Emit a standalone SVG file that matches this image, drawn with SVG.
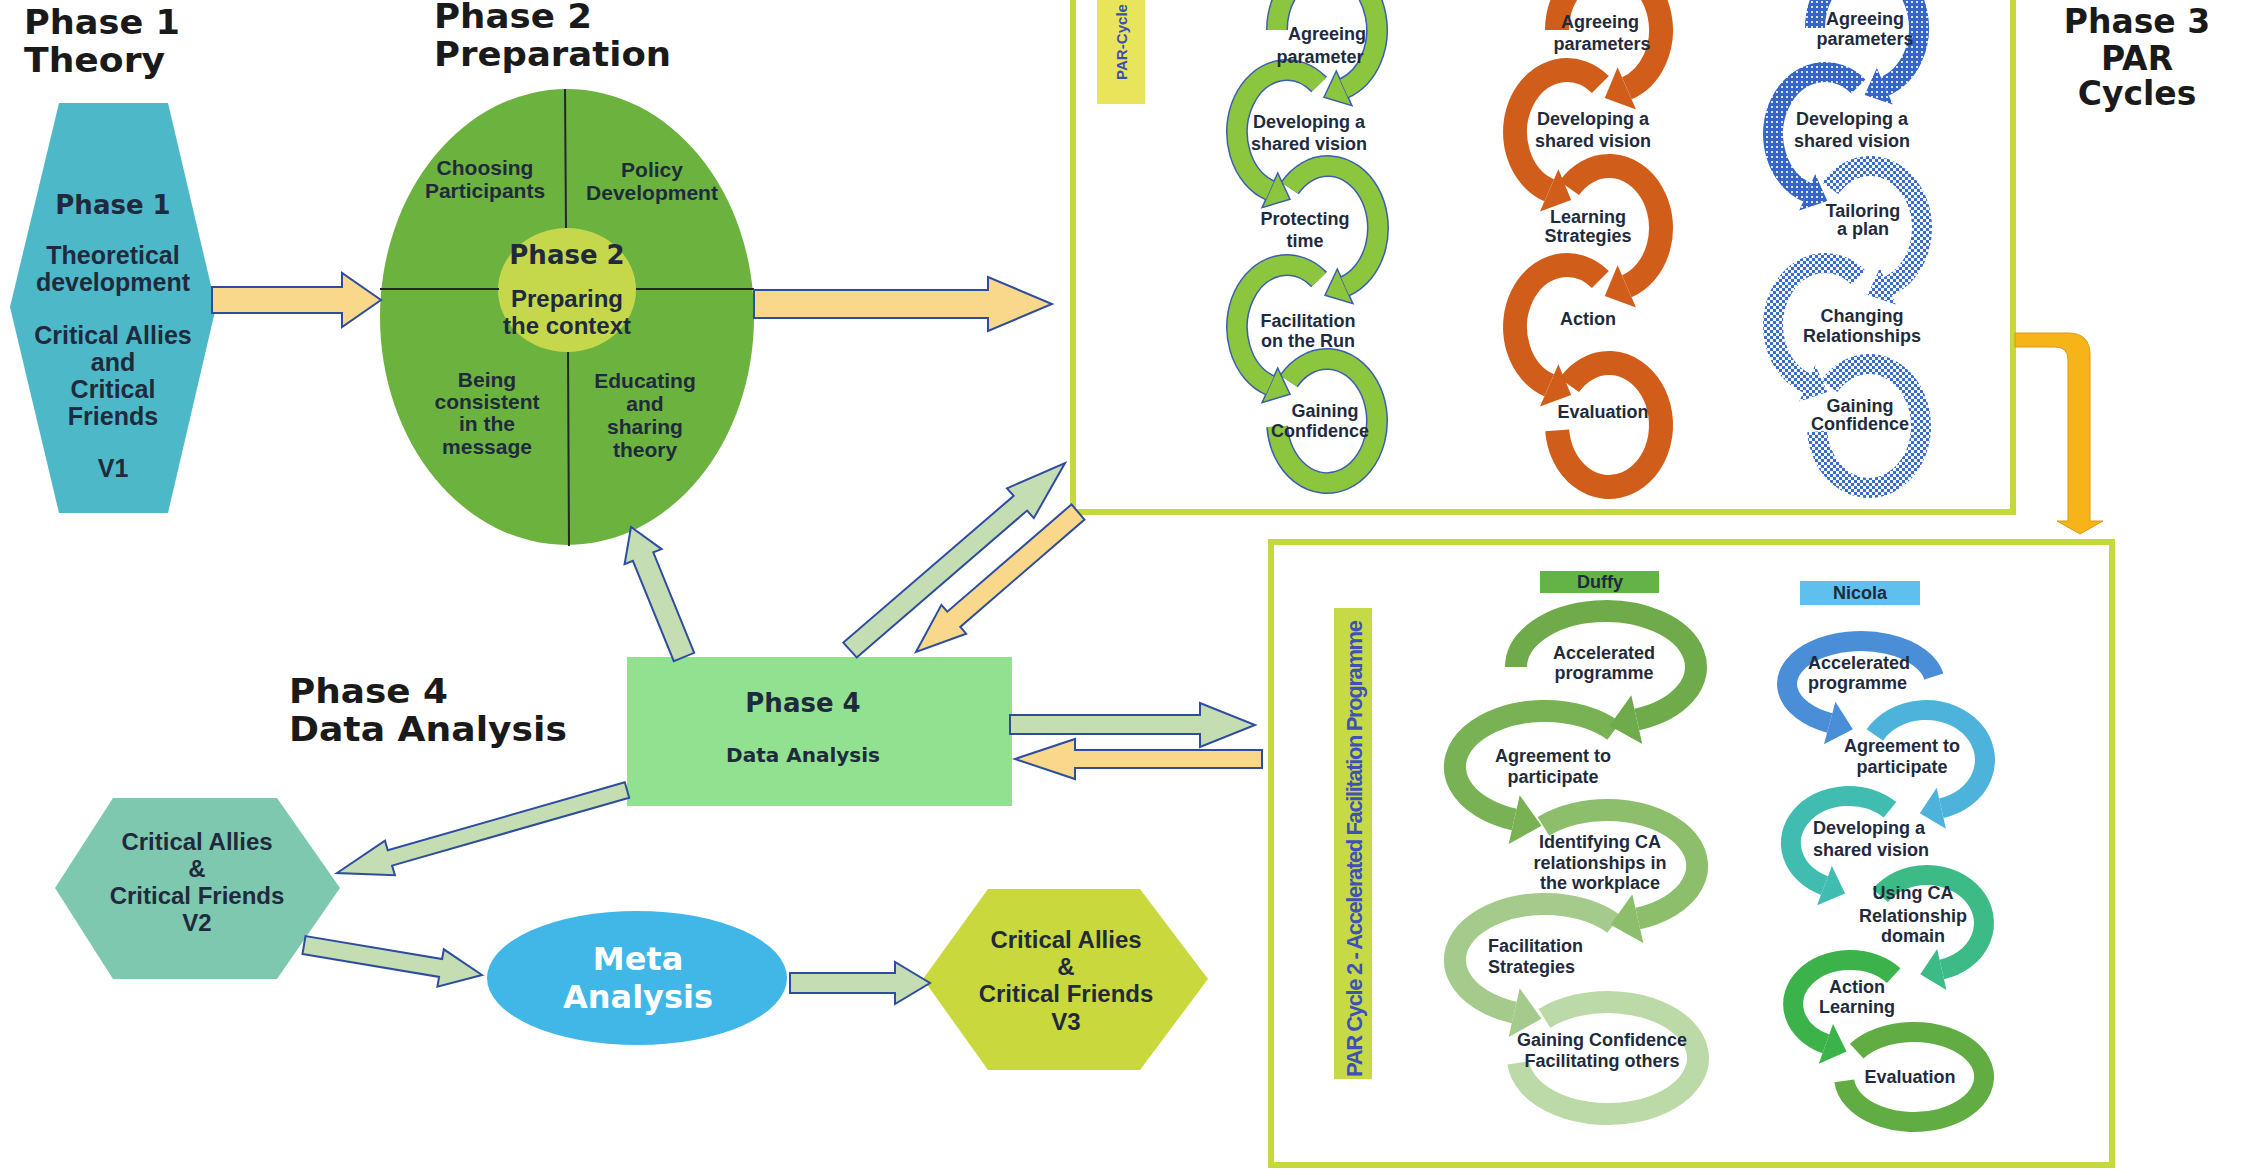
<svg xmlns="http://www.w3.org/2000/svg" width="2244" height="1170" viewBox="0 0 2244 1170">
<style>
.ttl{font-family:"DejaVu Sans",Verdana,sans-serif;font-weight:bold;font-size:33px;fill:#1a1a1a}
.hd{font-family:"DejaVu Sans",Verdana,sans-serif;font-weight:bold;fill:#1f2b3c}
.lb{font-family:"Liberation Sans",Arial,sans-serif;font-weight:bold;fill:#1f2b3c}
.c{text-anchor:middle}
.f18{font-size:18px}
.f21{font-size:21px}
.f24{font-size:24px}
.f25{font-size:25px}
.arw{stroke:#2E4D9E;stroke-width:2;stroke-linejoin:miter}
.yel{fill:#F9D88C}
.grn{fill:#C5DDB3}
.go{fill:none;stroke:#3B5EAE;stroke-width:22}
.gf{fill:none;stroke:#8CC63F;stroke-width:19}
.gh{fill:#8CC63F;stroke:#3B5EAE;stroke-width:1.5}
.or{fill:none;stroke:#D05E1A;stroke-width:24}
.orh{fill:#D05E1A}
.b1{fill:none;stroke:url(#bp1);stroke-width:20}
.b2{fill:none;stroke:url(#bp2);stroke-width:20}
.box{fill:none;stroke:#C5D93F;stroke-width:6}
</style>
<defs>
<pattern id="bp1" width="5" height="5" patternUnits="userSpaceOnUse"><rect width="5" height="5" fill="#3565C8"/><rect x="1" y="1" width="2" height="2" fill="#DDE6F7"/></pattern>
<pattern id="bp2" width="6" height="6" patternUnits="userSpaceOnUse"><rect width="6" height="6" fill="#F4F7FD"/><rect width="3" height="3" fill="#3A6BD0"/><rect x="3" y="3" width="3" height="3" fill="#3A6BD0"/></pattern>
<path id="c1r1" d="M1277,30 A50,62 0 1 1 1344.1,88.3"/>
<path id="c1r2" d="M1319.1,84.5 A50,62 0 1 0 1269.9,190.3"/>
<path id="c1r3" d="M1289.7,188.15 A50,62 0 1 1 1345.1,286.3"/>
<path id="c1r4" d="M1319.1,279.5 A50,62 0 1 0 1269.9,385.3"/>
<path id="c1r5" d="M1288.7,381.15 A50,62 0 1 1 1277.2,426.4"/>
</defs>
<rect width="2244" height="1170" fill="#ffffff"/>

<g id="titles">
<text class="ttl" x="24" y="34" textLength="156" lengthAdjust="spacingAndGlyphs">Phase 1</text>
<text class="ttl" x="24" y="72" textLength="141" lengthAdjust="spacingAndGlyphs">Theory</text>
<text class="ttl" x="434" y="28" textLength="158" lengthAdjust="spacingAndGlyphs">Phase 2</text>
<text class="ttl" x="434" y="66" textLength="237" lengthAdjust="spacingAndGlyphs">Preparation</text>
<text class="ttl c" x="2137" y="33">Phase 3</text>
<text class="ttl c" x="2137" y="70">PAR</text>
<text class="ttl c" x="2137" y="105">Cycles</text>
<text class="ttl" x="289" y="703" textLength="159" lengthAdjust="spacingAndGlyphs">Phase 4</text>
<text class="ttl" x="289" y="741" textLength="278" lengthAdjust="spacingAndGlyphs">Data Analysis</text>
</g>

<g id="phase1">
<polygon points="59,103 168,103 216,307 168,513 59,513 10,307" fill="#4DB8C8"/>
<text class="hd c" x="113" y="214" font-size="26">Phase 1</text>
<text class="lb c f25" x="113" y="264">Theoretical</text>
<text class="lb c f25" x="113" y="291">development</text>
<text class="lb c f25" x="113" y="344">Critical Allies</text>
<text class="lb c f25" x="113" y="371">and</text>
<text class="lb c f25" x="113" y="398">Critical</text>
<text class="lb c f25" x="113" y="425">Friends</text>
<text class="lb c f25" x="113" y="477">V1</text>
</g>

<g id="phase2">
<ellipse cx="567" cy="317" rx="187" ry="228" fill="#6CB23F"/>
<ellipse cx="567" cy="290" rx="69" ry="62" fill="#C5D84C"/>
<path d="M565,89 L566,228 M568,352 L569,546 M380,289 L499,289 M636,289 L754,289" stroke="#1E2A2A" stroke-width="2" fill="none"/>
<text class="lb c f21" x="485" y="175">Choosing</text>
<text class="lb c f21" x="485" y="198">Participants</text>
<text class="lb c f21" x="652" y="177">Policy</text>
<text class="lb c f21" x="652" y="200">Development</text>
<text class="hd c" x="567" y="264" font-size="26">Phase 2</text>
<text class="lb c f24" x="567" y="307">Preparing</text>
<text class="lb c f24" x="567" y="334">the context</text>
<text class="lb c f21" x="487" y="387">Being</text>
<text class="lb c f21" x="487" y="409">consistent</text>
<text class="lb c f21" x="487" y="431">in the</text>
<text class="lb c f21" x="487" y="454">message</text>
<text class="lb c f21" x="645" y="388">Educating</text>
<text class="lb c f21" x="645" y="411">and</text>
<text class="lb c f21" x="645" y="434">sharing</text>
<text class="lb c f21" x="645" y="457">theory</text>
</g>

<g id="phase3-par-cycles">
<rect class="box" x="1073" y="-20" width="940" height="532"/>
<rect x="1097" y="0" width="48" height="104" fill="#E8E45C"/>
<text class="lb" font-size="15" style="fill:#3B4FB0" transform="translate(1127,80) rotate(-90)" textLength="76" lengthAdjust="spacingAndGlyphs">PAR-Cycle</text>
<use href="#c1r5" class="go"/><use href="#c1r5" class="gf"/>
<use href="#c1r4" class="go"/><polygon class="gh" points="1262.1,402.6 1277.7,368 1290,394.3"/><use href="#c1r4" class="gf"/>
<use href="#c1r3" class="go"/><polygon class="gh" points="1337.3,269 1352.9,303.6 1325,295.3"/><use href="#c1r3" class="gf"/>
<use href="#c1r2" class="go"/><polygon class="gh" points="1262.1,207.6 1277.7,173 1290,199.3"/><use href="#c1r2" class="gf"/>
<use href="#c1r1" class="go"/><polygon class="gh" points="1336.3,71 1351.9,105.6 1324,97.3"/><use href="#c1r1" class="gf"/>
<path class="or" d="M1569.2,385.15 A52,62 0 1 1 1557.2,430.4"/>
<path class="or" d="M1600.4,279.5 A52,62 0 1 0 1549.2,385.3"/><polygon class="orh" points="1540,406.4 1558.4,364.2 1571.2,394.9"/>
<path class="or" d="M1569.2,188.15 A52,62 0 1 1 1626.8,286.3"/><polygon class="orh" points="1617.6,265.2 1636,307.4 1604.8,295.9"/>
<path class="or" d="M1600.4,84.5 A52,62 0 1 0 1549.2,190.3"/><polygon class="orh" points="1540,211.4 1558.4,169.2 1571.2,199.9"/>
<path class="or" d="M1557,30 A52,62 0 1 1 1626.8,88.3"/><polygon class="orh" points="1617.6,67.2 1636,109.4 1604.8,97.9"/>
<path class="b2" d="M1829.2,386.15 A52,62 0 1 1 1817.2,431.4"/>
<path class="b2" d="M1858.4,277.5 A52,62 0 1 0 1807.2,383.3"/><polygon fill="url(#bp2)" points="1799.2,401.6 1815.2,365 1827.4,392.1"/>
<path class="b2" d="M1830.2,188.15 A52,62 0 1 1 1887.8,286.3"/><polygon fill="url(#bp2)" points="1879.8,268 1895.8,304.6 1867.6,295.1"/>
<path class="b1" d="M1858.4,86.5 A52,62 0 1 0 1807.2,192.3"/><polygon fill="url(#bp1)" points="1799.2,210.6 1815.2,174 1827.4,201.1"/>
<path class="b1" d="M1815,28 A52,62 0 1 1 1884.8,86.3"/><polygon fill="url(#bp1)" points="1876.8,68 1892.8,104.6 1864.6,95.1"/>
<g class="lb c f18">
<text x="1327" y="40">Agreeing</text>
<text x="1320" y="63">parameter</text>
<text x="1309" y="128">Developing a</text>
<text x="1309" y="150">shared vision</text>
<text x="1305" y="225">Protecting</text>
<text x="1305" y="247">time</text>
<text x="1308" y="327">Facilitation</text>
<text x="1308" y="347">on the Run</text>
<text x="1325" y="417">Gaining</text>
<text x="1320" y="437">Confidence</text>
<text x="1600" y="28">Agreeing</text>
<text x="1602" y="50">parameters</text>
<text x="1593" y="125">Developing a</text>
<text x="1593" y="147">shared vision</text>
<text x="1588" y="223">Learning</text>
<text x="1588" y="242">Strategies</text>
<text x="1588" y="325">Action</text>
<text x="1603" y="418">Evaluation</text>
<text x="1865" y="25">Agreeing</text>
<text x="1865" y="45">parameters</text>
<text x="1852" y="125">Developing a</text>
<text x="1852" y="147">shared vision</text>
<text x="1863" y="217">Tailoring</text>
<text x="1863" y="235">a plan</text>
<text x="1862" y="322">Changing</text>
<text x="1862" y="342">Relationships</text>
<text x="1860" y="412">Gaining</text>
<text x="1860" y="430">Confidence</text>
</g>
</g>

<g id="par-cycle-2">
<rect class="box" x="1271" y="542" width="841" height="623"/>
<rect x="1334" y="608" width="38" height="471" fill="#C6D946"/>
<text class="lb" font-size="22" style="fill:#3F51B5" transform="translate(1362,1077) rotate(-90)" textLength="457" lengthAdjust="spacing">PAR Cycle 2 -  Accelerated Facilitation Programme</text>
<rect x="1540" y="571" width="119" height="22" fill="#63B346"/>
<text class="lb c f18" x="1600" y="588">Duffy</text>
<rect x="1800" y="581" width="120" height="24" fill="#5EC0EC"/>
<text class="lb c f18" x="1860" y="599">Nicola</text>
<path d="M1544.4,1018.4 A90,56 0 1 1 1518.3,1062.9" fill="none" stroke="#BCDAA8" stroke-width="22"/>
<path d="M1613.9,924 A90,56 0 1 0 1514.2,1012.6" fill="none" stroke="#A4CB8B" stroke-width="22"/><polygon fill="#A4CB8B" points="1508.7,1037 1519.7,988.2 1541.5,1018.8"/>
<path d="M1543.4,826.4 A90,56 0 1 1 1637.8,918.6" fill="none" stroke="#8CBE6C" stroke-width="22"/><polygon fill="#8CBE6C" points="1632.3,894.2 1643.3,943 1610.5,924.8"/>
<path d="M1613.9,731 A90,56 0 1 0 1514.2,819.6" fill="none" stroke="#79B155" stroke-width="22"/><polygon fill="#79B155" points="1508.7,844 1519.7,795.2 1541.5,825.8"/>
<path d="M1516,667 A90,56 0 1 1 1636.8,719.6" fill="none" stroke="#6FAB4A" stroke-width="22"/><polygon fill="#6FAB4A" points="1631.3,695.2 1642.3,744 1609.5,725.8"/>
<path d="M1856.7,1051.2 A70,45 0 1 1 1844.3,1080.9" fill="none" stroke="#62AD43" stroke-width="20"/>
<path d="M1893.7,975.7 A57,44 0 1 0 1825.9,1043.9" fill="none" stroke="#3BB34A" stroke-width="20"/><polygon fill="#3BB34A" points="1818.8,1063.7 1833,1024.1 1846.6,1051.4"/>
<path d="M1880.3,895.5 A57,48 0 1 1 1941.8,969.4" fill="none" stroke="#3DBB86" stroke-width="20"/><polygon fill="#3DBB86" points="1937.2,948.9 1946.4,989.9 1920.3,974.2"/>
<path d="M1890,809.8 A58,47 0 1 0 1824.5,885.6" fill="none" stroke="#40BDB0" stroke-width="20"/><polygon fill="#40BDB0" points="1817.1,905.3 1831.9,865.9 1845.1,893.4"/>
<path d="M1874.9,735 A59,50 0 1 1 1941.3,808.3" fill="none" stroke="#4DB3DA" stroke-width="20"/><polygon fill="#4DB3DA" points="1936.7,787.8 1945.9,828.8 1919.8,813.2"/>
<path d="M1933.9,676.5 A74,43 0 1 0 1829.7,723" fill="none" stroke="#4A8ED8" stroke-width="20"/><polygon fill="#4A8ED8" points="1824,744.2 1835.4,701.8 1852.9,729.3"/>
<g class="lb f18">
<text class="c" x="1604" y="659">Accelerated</text>
<text class="c" x="1604" y="679">programme</text>
<text class="c" x="1553" y="762">Agreement to</text>
<text class="c" x="1553" y="783">participate</text>
<text class="c" x="1600" y="848">Identifying CA</text>
<text class="c" x="1600" y="869">relationships in</text>
<text class="c" x="1600" y="889">the workplace</text>
<text x="1488" y="952">Facilitation</text>
<text x="1488" y="973">Strategies</text>
<text class="c" x="1602" y="1046">Gaining Confidence</text>
<text class="c" x="1602" y="1067">Facilitating others</text>
<text x="1808" y="669">Accelerated</text>
<text x="1808" y="689">programme</text>
<text class="c" x="1902" y="752">Agreement to</text>
<text class="c" x="1902" y="773">participate</text>
<text x="1813" y="834">Developing a</text>
<text x="1813" y="856">shared vision</text>
<text class="c" x="1913" y="899">Using CA</text>
<text class="c" x="1913" y="922">Relationship</text>
<text class="c" x="1913" y="942">domain</text>
<text class="c" x="1857" y="993">Action</text>
<text class="c" x="1857" y="1013">Learning</text>
<text class="c" x="1910" y="1083">Evaluation</text>
</g>
</g>

<g id="phase4">
<rect x="627" y="657" width="385" height="149" fill="#91E191"/>
<text class="hd c" x="803" y="712" font-size="26">Phase 4</text>
<text class="hd c" x="803" y="762" font-size="20">Data Analysis</text>
</g>

<g id="critical-v2">
<polygon points="113,798 277,798 340,888 277,979 113,979 55,888" fill="#7EC8B0"/>
<text class="lb c f24" x="197" y="850">Critical Allies</text>
<text class="lb c f24" x="197" y="877">&amp;</text>
<text class="lb c f24" x="197" y="904">Critical Friends</text>
<text class="lb c f24" x="197" y="931">V2</text>
</g>

<g id="meta-analysis">
<ellipse cx="637" cy="978" rx="150" ry="67" fill="#40B7E7"/>
<text class="hd c" x="638" y="970" font-size="32" style="fill:#ffffff">Meta</text>
<text class="hd c" x="638" y="1008" font-size="32" style="fill:#ffffff">Analysis</text>
</g>

<g id="critical-v3">
<polygon points="988,889 1140,889 1208,979 1140,1070 988,1070 923,979" fill="#C9D93D"/>
<text class="lb c f24" x="1066" y="948">Critical Allies</text>
<text class="lb c f24" x="1066" y="975">&amp;</text>
<text class="lb c f24" x="1066" y="1002">Critical Friends</text>
<text class="lb c f24" x="1066" y="1030">V3</text>
</g>

<g id="connectors">
<polygon class="arw yel" points="212,287 342,287 342,273 381,300 342,327 342,313 212,313"/>
<polygon class="arw yel" points="754,290 988,290 988,277 1052,304 988,331 988,318 754,318"/>
<polygon class="arw grn" points="694.2,652.8 653.3,552.4 661.6,549.1 631,527 624.6,564.1 632.9,560.8 673.8,661.2"/>
<polygon class="arw grn" points="856.7,657.4 1027.1,510.6 1033.8,518.1 1065,463 1007,488.3 1013.7,495.8 843.3,642.6"/>
<polygon class="arw yel" points="1071.5,504.4 947.3,611.7 941.4,604.9 916,652 966.2,633.7 960.3,626.9 1084.5,519.6"/>
<polygon class="arw grn" points="1010,715 1200,715 1200,703 1255,725 1200,747 1200,734 1010,734"/>
<polygon class="arw yel" points="1262,750 1075,750 1075,739 1015,759 1075,779 1075,768 1262,768"/>
<polygon class="arw grn" points="624.8,782.3 387.7,850.2 385,840.6 337,873 394.9,875.2 392.1,865.6 629.2,797.7"/>
<polygon class="arw grn" points="302.5,953.9 439.1,976.9 437.4,986.7 482,975 443.8,949.3 442.1,959.1 305.5,936.1"/>
<polygon class="arw grn" points="790,973 895,973 895,962 930,983 895,1004 895,993 790,993"/>
<path d="M2015,333 L2068,333 Q2090,333 2090,355 L2090,521 L2103,521 L2080,534 L2057,521 L2068,521 L2068,360 Q2068,347 2055,347 L2015,347 Z" fill="#F6B418" stroke="#D89B0C" stroke-width="1"/>
</g>
</svg>
